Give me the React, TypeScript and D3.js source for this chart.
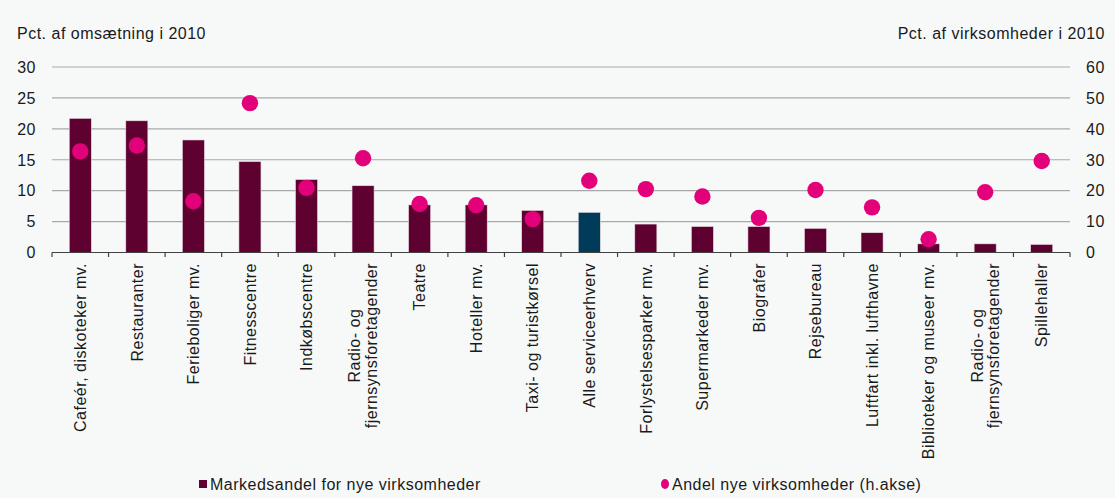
import React from 'react';
import * as d3 from 'd3';

// categories (two-line labels split on "\n")
const categories = [
  'Cafeér, diskoteker mv.',
  'Restauranter',
  'Ferieboliger mv.',
  'Fitnesscentre',
  'Indkøbscentre',
  'Radio- og\nfjernsynsforetagender',
  'Teatre',
  'Hoteller mv.',
  'Taxi- og turistkørsel',
  'Alle serviceerhverv',
  'Forlystelsesparker mv.',
  'Supermarkeder mv.',
  'Biografer',
  'Rejsebureau',
  'Luftfart inkl. lufthavne',
  'Biblioteker og museer mv.',
  'Radio- og\nfjernsynsforetagender',
  'Spillehaller',
];

// Markedsandel for nye virksomheder (left axis, pct. af omsætning)
const marketShare = [21.7, 21.3, 18.2, 14.7, 11.8, 10.8, 7.7, 7.7, 6.8, 6.5, 4.6, 4.2, 4.2, 3.9, 3.2, 1.4, 1.4, 1.3];
// Andel nye virksomheder (right axis, pct. af virksomheder)
const newShare = [32.7, 34.6, 16.6, 48.3, 20.9, 30.5, 15.7, 15.3, 10.8, 23.2, 20.5, 18.1, 11.2, 20.2, 14.6, 4.3, 19.5, 29.6];

const leftTicks = [0, 5, 10, 15, 20, 25, 30];
const rightTicks = [0, 10, 20, 30, 40, 50, 60];
const highlight = 'Alle serviceerhverv';

const W = 1115;
const H = 498;
const font = '"Liberation Sans", Arial, sans-serif';

// width of a line of label text, so multi-line labels can be centred on each other
let ctx: CanvasRenderingContext2D | null = null;
function textWidth(s: string) {
  if (!ctx) ctx = document.createElement('canvas').getContext('2d');
  if (!ctx) return s.length * 8.5;
  ctx.font = '16px "Liberation Sans", Arial, sans-serif';
  return ctx.measureText(s).width + 0.5 * s.length;
}

export default function App() {
  const x = d3.scaleBand<number>()
    .domain(d3.range(categories.length))
    .range([52, 1070])
    .paddingInner(0.61)
    .paddingOuter(0.305);

  const yL = d3.scaleLinear().domain([0, 30]).range([252.5, 67]);
  const yR = d3.scaleLinear().domain([0, 60]).range([252.5, 67]);

  const step = x.step();
  const bounds = d3.range(categories.length + 1).map(i => 52 + i * step);
  const labelTop = 263;

  return (
    <svg width={W} height={H} style={{ position: 'absolute', left: 0, top: 0, background: '#f7f9f9' }}
      fontFamily={font} letterSpacing="0.5px">
      <rect x={0} y={0} width={W} height={H} fill="#f7f9f9" />

      <text x={17} y={39} fontSize={16} fill="#1a1a1a">Pct. af omsætning  i 2010</text>
      <text x={1105} y={39} fontSize={16} fill="#1a1a1a" textAnchor="end">Pct. af virksomheder i 2010</text>

      {/* grid */}
      {leftTicks.filter(t => t > 0).map(t => (
        <line key={t} x1={52} x2={1070} y1={yL(t)} y2={yL(t)} stroke="#a8a8a8" strokeWidth={1.2} />
      ))}

      {/* left axis labels */}
      {leftTicks.map(t => (
        <text key={t} x={36} y={yL(t)} dy="0.36em" fontSize={16} textAnchor="end" fill="#1a1a1a">{t}</text>
      ))}
      {/* right axis labels */}
      {rightTicks.map(t => (
        <text key={t} x={1086} y={yR(t)} dy="0.36em" fontSize={16} fill="#1a1a1a">{t}</text>
      ))}

      {/* bars */}
      {marketShare.map((v, i) => (
        <rect key={i} x={x(i)} y={yL(v)} width={x.bandwidth()} height={yL(0) - yL(v)}
          fill={categories[i] === highlight ? '#003c5a' : '#5e0030'}
          stroke="#e9dbe2" strokeWidth={0.6} />
      ))}

      {/* x axis */}
      <line x1={52} x2={1070} y1={252.5} y2={252.5} stroke="#404040" strokeWidth={1.2} />
      {bounds.map((b, i) => (
        <line key={i} x1={b} x2={b} y1={252.5} y2={257} stroke="#404040" strokeWidth={1.2} />
      ))}

      {/* dots */}
      {newShare.map((v, i) => (
        <circle key={i} cx={x(i)! + x.bandwidth() / 2} cy={yR(v)} r={8.2} fill="#e3007b" />
      ))}

      {/* category labels */}
      {categories.map((c, i) => {
        const lines = c.split('\n');
        const cx = x(i)! + x.bandwidth() / 2;
        if (lines.length === 1) {
          return (
            <text key={i} transform={`translate(${cx},${labelTop}) rotate(-90)`} dy="0.36em"
              textAnchor="end" fontSize={16} fill="#1a1a1a">{c}</text>
          );
        }
        const longest = d3.max(lines, textWidth)!;
        return (
          <text key={i} transform={`translate(${cx},${labelTop + longest / 2}) rotate(-90)`}
            textAnchor="middle" fontSize={16} fill="#1a1a1a">
            {lines.map((l, j) => (
              <tspan key={j} x={0} y={0} dy={`${0.36 + (j - (lines.length - 1) / 2) * 1.05}em`}>{l}</tspan>
            ))}
          </text>
        );
      })}

      {/* legend */}
      <rect x={199} y={480} width={8} height={8} fill="#5e0030" />
      <text x={210} y={490} fontSize={16} fill="#1a1a1a">Markedsandel for nye virksomheder</text>
      <ellipse cx={665} cy={484} rx={4} ry={5} fill="#e3007b" />
      <text x={672} y={490} fontSize={16} fill="#1a1a1a">Andel nye virksomheder (h.akse)</text>
    </svg>
  );
}
